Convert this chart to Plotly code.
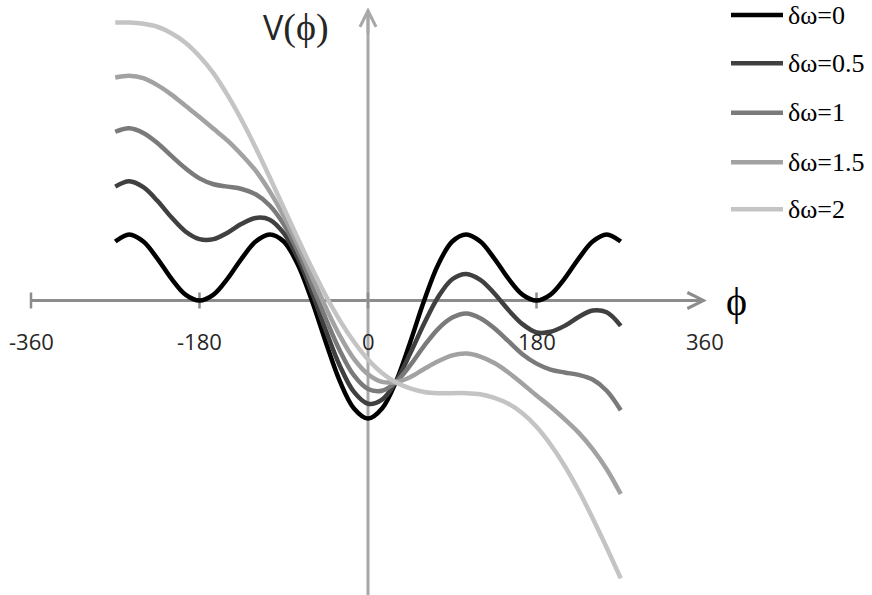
import plotly.graph_objects as go

# ---------------- data ----------------
phi = [-270, -255, -240, -225, -210, -195, -180, -165, -150, -135, -120, -105,
       -90, -75, -60, -45, -30, -15, 0, 15, 30, 45, 60, 75, 90, 105, 120, 135,
       150, 165, 180, 195, 210, 225, 240, 255, 270]

v_dw0 = [1.00, 1.12, 1.00, 0.71, 0.37, 0.10, 0.00, 0.10, 0.37, 0.71, 1.00, 1.12,
         1.00, 0.61, 0.00, -0.71, -1.37, -1.83, -2.00, -1.83, -1.37, -0.71, 0.00, 0.61,
         1.00, 1.12, 1.00, 0.71, 0.37, 0.10, 0.00, 0.10, 0.37, 0.71, 1.00, 1.12, 1.00]

v_dw05 = [1.93, 2.02, 1.92, 1.69, 1.41, 1.17, 1.04, 1.04, 1.15, 1.30, 1.40, 1.37,
          1.14, 0.72, 0.14, -0.51, -1.11, -1.55, -1.75, -1.68, -1.37, -0.90, -0.39, 0.06,
          0.36, 0.45, 0.35, 0.12, -0.16, -0.40, -0.54, -0.53, -0.43, -0.28, -0.17, -0.20, -0.43]

v_dw1 = [2.86, 2.92, 2.84, 2.67, 2.45, 2.24, 2.07, 1.97, 1.93, 1.89, 1.80, 1.61,
         1.29, 0.83, 0.27, -0.31, -0.85, -1.27, -1.50, -1.53, -1.38, -1.10, -0.77, -0.48,
         -0.29, -0.22, -0.30, -0.47, -0.69, -0.91, -1.07, -1.17, -1.22, -1.26, -1.34, -1.53, -1.86]

v_dw15 = [3.78, 3.81, 3.77, 3.65, 3.49, 3.30, 3.11, 2.91, 2.71, 2.47, 2.20, 1.85,
          1.43, 0.94, 0.41, -0.12, -0.60, -0.99, -1.25, -1.38, -1.38, -1.30, -1.16, -1.03,
          -0.93, -0.90, -0.95, -1.06, -1.22, -1.41, -1.61, -1.80, -2.01, -2.24, -2.52, -2.86, -3.28]

v_dw2 = [4.71, 4.71, 4.69, 4.64, 4.53, 4.37, 4.14, 3.85, 3.48, 3.06, 2.59, 2.09,
         1.57, 1.05, 0.55, 0.08, -0.34, -0.70, -1.00, -1.23, -1.39, -1.49, -1.55, -1.57,
         -1.57, -1.57, -1.59, -1.65, -1.75, -1.91, -2.14, -2.44, -2.80, -3.22, -3.69, -4.19, -4.71]

series_names = ["δω=0", "δω=0.5", "δω=1", "δω=1.5", "δω=2"]
series_values = [v_dw0, v_dw05, v_dw1, v_dw15, v_dw2]

x_tick_values = [-360, -180, 0, 180, 360]
x_tick_labels = ["-360", "-180", "0", "180", "360"]

# ---------------- styling ----------------
colors = ["#000000", "#404040", "#7a7a7a", "#a2a2a2", "#c4c4c4"]
W, H = 872, 595
PX_PER_DEG = 674 / 720.0
X_M360_PX = 31.0
x_lo = -360 - X_M360_PX / PX_PER_DEG
x_hi = x_lo + W / PX_PER_DEG
Y0_PX = 300.5
PX_PER_UNIT = 59.0
y_hi = Y0_PX / PX_PER_UNIT
y_lo = -(H - Y0_PX) / PX_PER_UNIT

XAX_COLOR = "#8c8c8c"
YAX_COLOR = "#a8a8a8"
TXT_COLOR = "#262626"
PHI = "\u03d5"

fig = go.Figure()
for name, vals, col in zip(series_names, series_values, colors):
    fig.add_trace(go.Scatter(
        x=phi, y=vals, mode="lines", name=name,
        line=dict(color=col, width=4.5, shape="spline", smoothing=1.0),
        showlegend=False,
    ))

shapes = []
annotations = []

# axis lines (below the curves)
shapes.append(dict(type="line", xref="x", yref="y", x0=-360, x1=358, y0=0, y1=0,
                   line=dict(color=XAX_COLOR, width=3), layer="below"))
shapes.append(dict(type="line", xref="x", yref="y", x0=0, x1=0, y0=y_lo, y1=4.85,
                   line=dict(color=YAX_COLOR, width=3), layer="below"))
# ticks crossing the x axis
tick_half = 8 / PX_PER_UNIT
for tv in x_tick_values[:-1]:
    shapes.append(dict(type="line", xref="x", yref="y", x0=tv, x1=tv,
                       y0=-tick_half, y1=tick_half,
                       line=dict(color=XAX_COLOR, width=2.5), layer="below"))

# arrow heads
annotations.append(dict(x=362, y=0, ax=330, ay=0, xref="x", yref="y", axref="x", ayref="y",
                        text="", showarrow=True, arrowhead=5, arrowsize=1.05, arrowwidth=3,
                        arrowcolor=XAX_COLOR))
annotations.append(dict(x=0, y=4.97, ax=0, ay=4.5, xref="x", yref="y", axref="x", ayref="y",
                        text="", showarrow=True, arrowhead=5, arrowsize=1.05, arrowwidth=3,
                        arrowcolor=YAX_COLOR))

# tick labels
for tv, tl in zip(x_tick_values, x_tick_labels):
    annotations.append(dict(x=tv, y=0, xref="x", yref="y", text=tl, showarrow=False,
                            xanchor="center", yanchor="middle", yshift=-40,
                            font=dict(family="Open Sans", size=22, color=TXT_COLOR)))

# axis titles
annotations.append(dict(x=-77, y=(Y0_PX - 27) / PX_PER_UNIT, xref="x", yref="y",
                        text="V<span style='font-family:Liberation Serif;font-size:38px'>(" + PHI + ")</span>",
                        showarrow=False, xanchor="center", yanchor="middle",
                        font=dict(family="Open Sans", size=34, color=TXT_COLOR)))
annotations.append(dict(x=(736 - X_M360_PX) / PX_PER_DEG - 360, y=0, xref="x", yref="y",
                        text=PHI, showarrow=False, xanchor="center", yanchor="middle",
                        yshift=-1,
                        font=dict(family="Liberation Serif", size=40, color="#000000")))

# manual legend
legend_rows_px = [15, 63.3, 112.7, 162.3, 209.3]
for name, col, ly in zip(series_names, colors, legend_rows_px):
    yp = 1 - ly / H
    shapes.append(dict(type="line", xref="paper", yref="paper", x0=731 / W, x1=783 / W,
                       y0=yp, y1=yp, line=dict(color=col, width=4.5)))
    annotations.append(dict(x=786 / W, y=yp, xref="paper", yref="paper", text=name,
                            showarrow=False, xanchor="left", yanchor="middle",
                            font=dict(family="Liberation Serif", size=26, color="#000000")))

fig.update_layout(
    width=W, height=H,
    margin=dict(l=0, r=0, t=0, b=0),
    paper_bgcolor="white", plot_bgcolor="white",
    xaxis=dict(range=[x_lo, x_hi], visible=False, fixedrange=True),
    yaxis=dict(range=[y_lo, y_hi], visible=False, fixedrange=True),
    shapes=shapes, annotations=annotations,
    showlegend=False,
)

fig.write_html("out.html", config={"displayModeBar": False},
               post_script="document.body.style.margin='0';document.body.style.overflow='hidden';")
